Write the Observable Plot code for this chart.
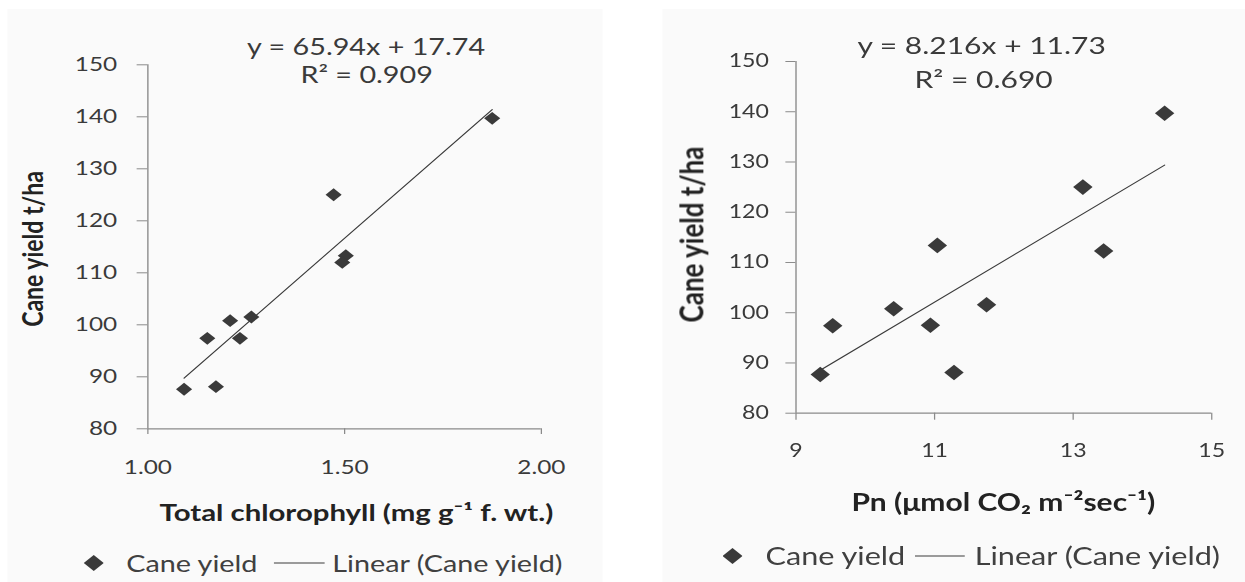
<!DOCTYPE html>
<html>
<head>
<meta charset="utf-8">
<script src="https://cdn.jsdelivr.net/npm/d3@7"></script>
<script src="https://cdn.jsdelivr.net/npm/@observablehq/plot@0.6"></script>
<style>
  html, body { margin: 0; padding: 0; background: #ffffff; overflow: hidden; }
  #stage { position: absolute; left: 0; top: 0; width: 996px; height: 582px; transform: scaleX(1.25); transform-origin: 0 0; font-family: Lato, "Open Sans", sans-serif; color: #404040; }
  .panel { position: absolute; background: #fafafa; }
  .chart { position: absolute; top: 0; }
  .leg { position: absolute; height: 30px; line-height: 30px; white-space: nowrap; }
</style>
</head>
<body>
<div id="stage">
  <div class="panel" style="left:6.4px; top:9px; width:476px; height:573px;"></div>
  <div class="panel" style="left:530.4px; top:9px; width:465.6px; height:573px;"></div>
  <div id="left" class="chart" style="left:0px;"></div>
  <div id="right" class="chart" style="left:520px;"></div>
</div>
<script>
// ---- Data: left chart (Total chlorophyll vs cane yield)
const chlorophyll = [1.875, 1.472, 1.503, 1.494, 1.209, 1.263, 1.151, 1.234, 1.092, 1.173];
const yieldLeft   = [139.7, 125.0, 113.3, 112.0, 100.8, 101.5, 97.4, 97.4, 87.6, 88.1];
const slopeLeft = 65.94, interceptLeft = 17.74, r2Left = "0.909";
const xTicksLeft = [1.0, 1.5, 2.0];

// ---- Data: right chart (Pn vs cane yield)
const pn         = [14.32, 13.14, 13.44, 11.04, 10.41, 11.75, 9.53, 10.94, 9.35, 11.28];
const yieldRight = [139.7, 125.0, 112.3, 113.4, 100.8, 101.6, 97.4, 97.5, 87.7, 88.1];
const slopeRight = 8.216, interceptRight = 11.73, r2Right = "0.690";
const xTicksRight = [9, 11, 13, 15];

const yTicks = [80, 90, 100, 110, 120, 130, 140, 150];
const yTitle = "Cane yield t/ha";
const xTitleLeft = "Total chlorophyll (mg g\u207B\u00B9 f. wt.)";
const xTitleRight = "Pn (\u03BCmol CO\u2082 m\u207B\u00B2sec\u207B\u00B9)";
const seriesName = "Cane yield";
const trendName = "Linear (Cane yield)";

const INK = "#3a3a3a", AXIS = "#8a8a8a";

function trendPoints(xs, slope, intercept) {
  const lo = d3.min(xs), hi = d3.max(xs);
  return [lo, hi].map(x => ({x, y: slope * x + intercept}));
}

function makeChart(cfg) {
  const pts = cfg.xs.map((x, i) => ({x, y: cfg.ys[i]}));
  const trend = trendPoints(cfg.xs, cfg.slope, cfg.intercept);
  const eq = `y = ${cfg.slope}x + ${cfg.intercept}`;
  const r2 = `R\u00B2 = ${cfg.r2}`;
  const txt = {textAnchor: "middle", lineAnchor: "middle"};
  return Plot.plot({
    width: cfg.width, height: 540,
    marginLeft: cfg.ml, marginRight: cfg.mr, marginTop: cfg.mt, marginBottom: 540 - cfg.bottom,
    style: {background: "transparent", fontFamily: "Lato, sans-serif", color: INK, overflow: "visible"},
    x: {domain: cfg.xDomain},
    y: {domain: [80, 150]},
    marks: [
      Plot.ruleY([80], {stroke: AXIS, strokeWidth: 1.3}),
      Plot.ruleX([cfg.xDomain[0]], {stroke: AXIS, strokeWidth: 1.1}),
      Plot.axisY({ticks: yTicks, tickSize: cfg.yTickSize, tickPadding: cfg.yTickPad, stroke: AXIS, fill: INK, fontSize: cfg.tickFont, label: null}),
      Plot.axisX({ticks: cfg.xTicks, tickFormat: cfg.xFormat, tickSize: cfg.xTickSize, tickPadding: cfg.xTickPad, stroke: AXIS, fill: INK, fontSize: cfg.tickFont, label: null}),
      Plot.line(trend, {x: "x", y: "y", stroke: INK, strokeWidth: 1}),
      Plot.dot(pts, {x: "x", y: "y", symbol: "diamond2", r: cfg.r, fill: INK, stroke: "none"}),
      Plot.text([eq], {...txt, text: d => d, frameAnchor: "top", dx: cfg.eqDx, dy: cfg.eqDy, fontSize: cfg.eqFont, fill: INK}),
      Plot.text([r2], {...txt, text: d => d, frameAnchor: "top", dx: cfg.r2Dx, dy: cfg.r2Dy, fontSize: cfg.eqFont, fill: INK}),
      Plot.text([cfg.xTitle], {...txt, text: d => d, frameAnchor: "bottom", dx: cfg.xtDx, dy: cfg.xtDy, fontSize: cfg.titleFont, fontWeight: "bold", fill: "#222"}),
      Plot.text([yTitle], {...txt, text: d => d, frameAnchor: "left", rotate: -90, dx: cfg.ytDx, dy: cfg.ytDy, fontSize: cfg.yTitleFont, fontWeight: "bold", fill: "#222"})
    ]
  });
}

document.getElementById("left").appendChild(makeChart({
  xs: chlorophyll, ys: yieldLeft, slope: slopeLeft, intercept: interceptLeft, r2: r2Left,
  width: 490, ml: 117.8, mr: 57.4, mt: 64.3, bottom: 428.3,
  xDomain: [1, 2], xTicks: xTicksLeft, xFormat: d3.format(".2f"),
  yTickSize: 8.5, yTickPad: 16, xTickSize: 5.7, xTickPad: 26, tickFont: 19.5,
  r: 5.8, eqFont: 23, eqDx: 17.2, eqDy: -17.3, r2Dx: 17.6, r2Dy: 10.7,
  xTitle: xTitleLeft, titleFont: 23.5, xtDx: 9.4, xtDy: 84.7,
  yTitleFont: 23, ytDx: -91.4, ytDy: 2.2
}));

document.getElementById("right").appendChild(makeChart({
  xs: pn, ys: yieldRight, slope: slopeRight, intercept: interceptRight, r2: r2Right,
  width: 476, ml: 116.3, mr: 27.1, mt: 61, bottom: 412.7,
  xDomain: [9, 15], xTicks: xTicksRight, xFormat: d3.format("d"),
  yTickSize: 8, yTickPad: 13.7, xTickSize: 7, xTickPad: 23.7, tickFont: 18.5,
  r: 7, eqFont: 24, eqDx: -17.8, eqDy: -15, r2Dx: -16.2, r2Dy: 19,
  xTitle: xTitleRight, titleFont: 24, xtDx: -0.4, xtDy: 90.3,
  yTitleFont: 26, ytDx: -82.1, ytDy: -2.85
}));

// ---- Legends (below each chart)
function addLegend(cfg) {
  const stage = document.getElementById("stage");
  const top = cfg.cy - 15;
  const dia = document.createElement("div");
  dia.className = "leg";
  dia.style.left = (cfg.diamondX - 8) + "px";
  dia.style.top = top + "px";
  dia.innerHTML = `<svg width="16" height="30" style="vertical-align:top"><polygon points="8,7 16,15 8,23 0,15" fill="${INK}"/></svg>`;
  stage.appendChild(dia);
  const t1 = document.createElement("div");
  t1.className = "leg"; t1.style.left = cfg.text1X + "px"; t1.style.top = top + "px";
  t1.style.fontSize = cfg.font + "px"; t1.textContent = seriesName;
  stage.appendChild(t1);
  const ln = document.createElement("div");
  ln.className = "leg"; ln.style.left = cfg.lineX0 + "px"; ln.style.top = top + "px";
  ln.innerHTML = `<svg width="${cfg.lineX1 - cfg.lineX0}" height="30" style="vertical-align:top"><line x1="0" x2="${cfg.lineX1 - cfg.lineX0}" y1="15" y2="15" stroke="${INK}" stroke-width="1.2"/></svg>`;
  stage.appendChild(ln);
  const t2 = document.createElement("div");
  t2.className = "leg"; t2.style.left = cfg.text2X + "px"; t2.style.top = top + "px";
  t2.style.fontSize = cfg.font + "px"; t2.textContent = trendName;
  stage.appendChild(t2);
}
addLegend({cy: 563, diamondX: 75, text1X: 101, lineX0: 218.9, lineX1: 259.6, text2X: 265.8, font: 23});
addLegend({cy: 556, diamondX: 586.2, text1X: 612.4, lineX0: 732, lineX1: 771.8, text2X: 779.8, font: 24.5});
</script>
</body>
</html>
